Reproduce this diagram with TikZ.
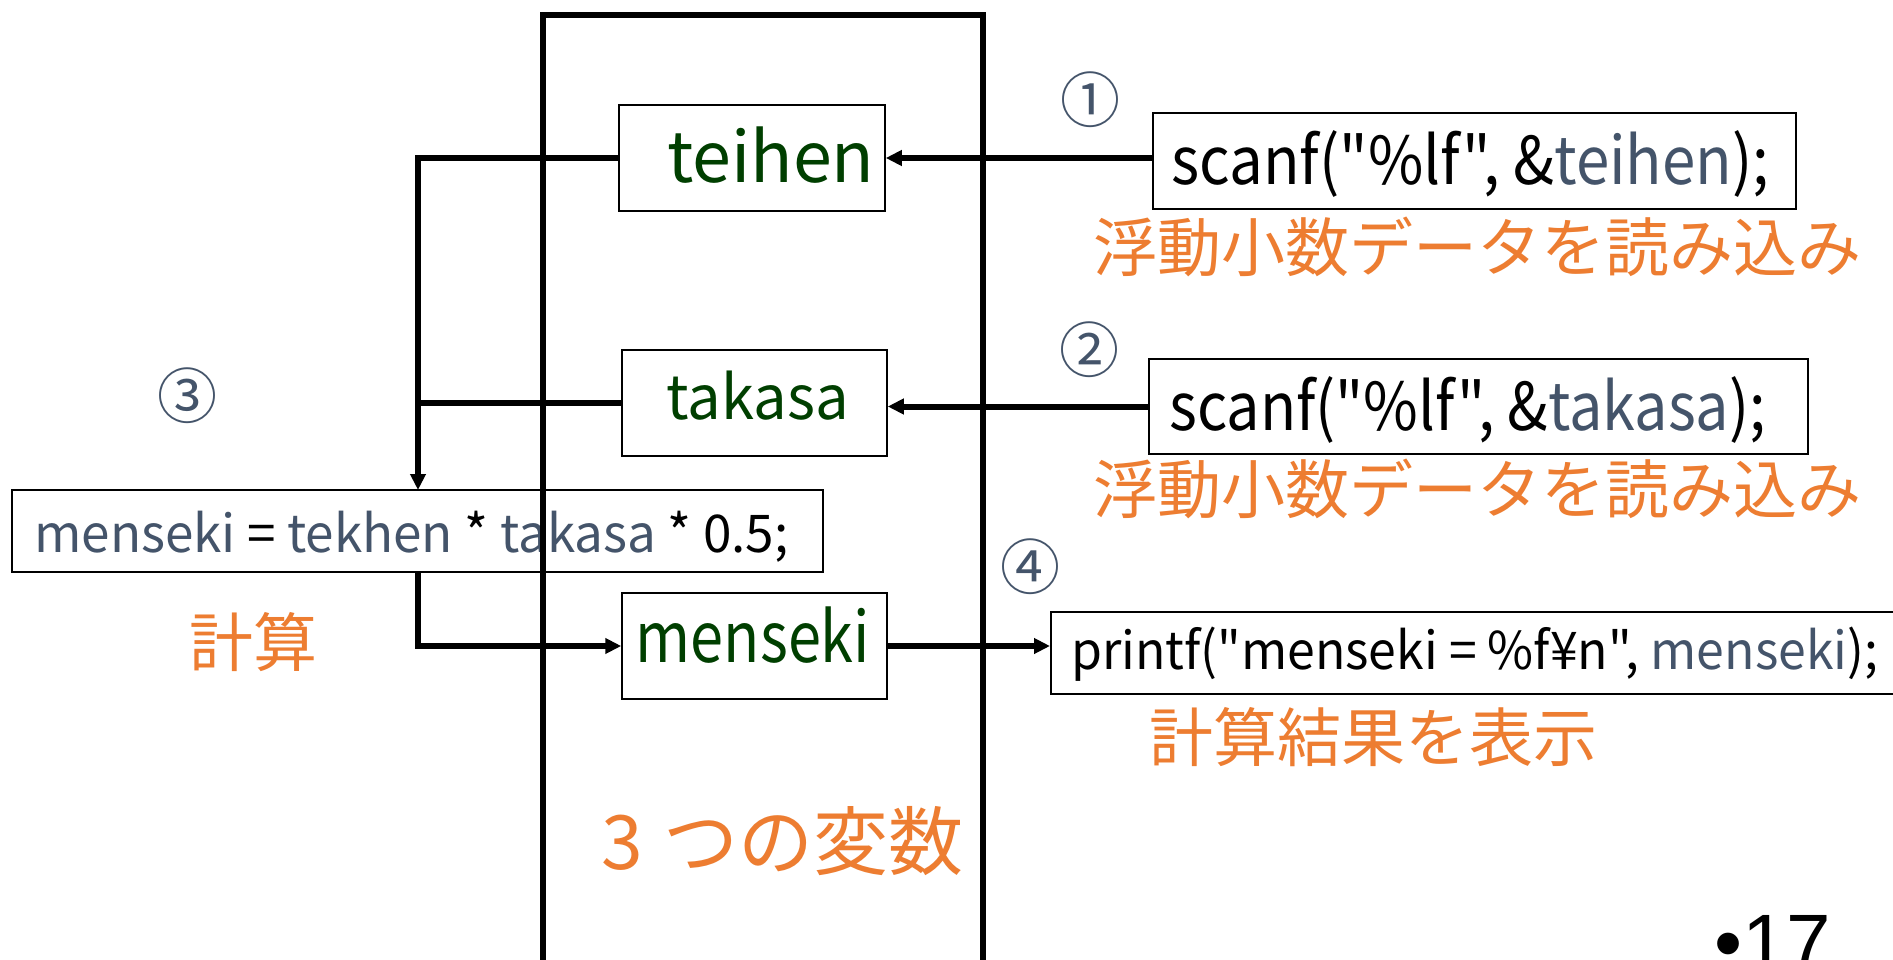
\documentclass[tikz,border=0pt]{standalone}
\usepackage{fontspec}
\setmainfont{Noto Sans CJK JP}[Ligatures=TeXOff]
\newfontfamily\arialf{Liberation Sans}
\usetikzlibrary{arrows.meta}
\definecolor{slate}{HTML}{44546A}
\definecolor{org}{HTML}{ED7D31}
\definecolor{dgreen}{HTML}{003F00}
\newcommand{\fs}[1]{\fontsize{#1pt}{#1pt}\selectfont}
\newcommand{\sx}[2]{\scalebox{#1}[1]{#2}}
\begin{document}
\begin{tikzpicture}[x=1pt,y=-1pt,
  thinbox/.style={draw, line width=1.5pt, inner sep=0pt},
  conn/.style={line width=6pt},
  arr/.style={conn, -{Triangle[length=16pt,width=15pt]}},
  txt/.style={inner sep=0pt},
  vartxt/.style={txt, text=dgreen, font=\fs{70}},
  codetxt/.style={txt, font=\fs{66}},
  smallcode/.style={txt, font=\fs{52}},
  jp/.style={txt, text=org, font=\fs{64}},
  num/.style={txt, text=slate, font=\fs{60}}]
\path[use as bounding box] (0,0) rectangle (1893,960);
\clip (0,0) rectangle (1893,960);
\fill[white] (0,0) rectangle (1893,960);

% variable boxes
\node[thinbox, minimum width=266pt, minimum height=106pt] (teihen) at (752,158) {};
\node[thinbox, minimum width=265pt, minimum height=106pt] (takasa) at (754.5,403) {};
\node[thinbox, minimum width=265pt, minimum height=106pt] (menseki) at (754.5,646) {};
\node[vartxt, anchor=base] (teihenT) at (771,183) {teihen};
\node[vartxt, font=\fs{61}, anchor=base] (takasaT) at (758,419) {\sx{0.98}{takasa}};
\node[vartxt, anchor=base] (mensekiT) at (753,662) {\sx{0.85}{menseki}};

% code boxes
\node[thinbox, minimum width=643pt, minimum height=96pt] (s1) at (1474.5,161) {};
\node[thinbox, minimum width=659pt, minimum height=95pt] (s2) at (1478.5,406.5) {};
\node[thinbox, minimum width=811pt, minimum height=82pt] (calc) at (417.5,531) {};
\node[thinbox, minimum width=860pt, minimum height=82pt, anchor=west] (pf) at (1050,653) {};

\node[codetxt, anchor=base west] (s1T) at (1171,185) {\sx{0.91}{scanf("\%lf", \&\textcolor{slate}{teihen});}};
\node[codetxt, anchor=base west] (s2T) at (1169,430) {\sx{0.90}{scanf("\%lf", \&\textcolor{slate}{takasa});}};
\node[smallcode, anchor=base west] (calcT) at (34,552) {\sx{0.985}{\textcolor{slate}{menseki} = \textcolor{slate}{tekhen} * \textcolor{slate}{takasa} * 0.5;}};
\node[smallcode, anchor=base west] (pfT) at (1071,669) {\sx{0.96}{printf("menseki = \%f¥n", \textcolor{slate}{menseki});}};

% big container (drawn over the calc box, as in the reference)
\node[draw, line width=6pt, inner sep=0pt, minimum width=440pt, minimum height=1000pt, anchor=north west] (vars) at (540,12) {};

% orange labels
\node[jp, anchor=west] (jp1) at (1093,247) {浮動小数データを読み込み};
\node[jp, anchor=west] (jp2) at (1093,489) {浮動小数データを読み込み};
\node[jp] (keisan) at (253,642) {計算};
\node[jp, anchor=west] (hyouji) at (1149,737) {計算結果を表示};
\node[jp, font=\fs{75}, anchor=west] (three) at (601,841) {3\hspace{21pt}つの変数};

% circled numbers
\node[num] (n1) at (1090,100) {①};
\node[num] (n2) at (1089,350) {②};
\node[num] (n3) at (187,396) {③};
\node[num] (n4) at (1030,567) {④};

% page number
\node[txt, font=\arialf\fs{80}, anchor=base west] (page) at (1714,970) {•17};

% connectors
\coordinate (calcin) at (418,490);
\coordinate (calcout) at (418,572);
\draw[arr] (s1.west |- teihen.east) -- (teihen.east);
\draw[arr] (s2.west) -- (s2.west -| takasa.east);
\draw[arr] (teihen.west) -| (calcin);
\draw[conn] (takasa.west) -- (takasa.west -| calcin);
\draw[arr] (calcout) |- (menseki.west);
\draw[arr] (menseki.east) -- (menseki.east -| pf.west);
\end{tikzpicture}
\end{document}
